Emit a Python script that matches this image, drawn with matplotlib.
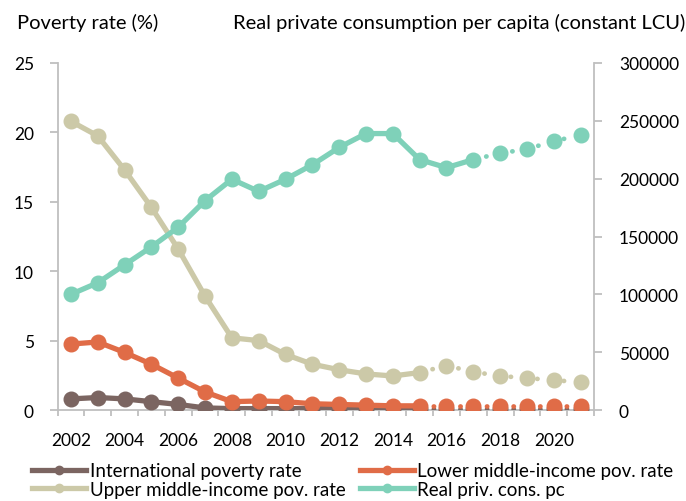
import matplotlib
matplotlib.use("Agg")
import matplotlib.pyplot as plt
from matplotlib.lines import Line2D
from matplotlib.ticker import MultipleLocator, FixedLocator

plt.rcParams['font.family'] = ['Lato', 'DejaVu Sans']

years = list(range(2002, 2022))
intl_pov = [0.8, 0.9, 0.8, 0.6, 0.4, 0.15, 0.1, 0.1, 0.1, 0.1, 0.1, 0.1, 0.1, 0.1, 0.1, 0.1, 0.1, 0.1, 0.1, 0.1]
lower_pov = [4.75, 4.9, 4.15, 3.3, 2.3, 1.3, 0.6, 0.65, 0.6, 0.45, 0.4, 0.35, 0.3, 0.3, 0.3, 0.3, 0.3, 0.3, 0.3, 0.3]
upper_pov = [20.8, 19.75, 17.3, 14.6, 11.6, 8.2, 5.2, 5.0, 4.0, 3.3, 2.9, 2.6, 2.45, 2.7, 3.2, 2.75, 2.45, 2.3, 2.15, 2.0]
cons_pc = [100000, 110000, 125500, 141000, 158000, 181000, 199500, 189000, 199500, 212000, 227000, 239000, 239000, 216500, 209500, 216500, 222000, 225500, 232500, 237500]

pov_proj_start = 2015   # last actual year for poverty series
cons_proj_start = 2017  # last actual year for consumption

c_intl = '#7B6561'
c_lower = '#E06C47'
c_upper = '#CCC9A8'
c_cons = '#7FD1B9'

labels = ['International poverty rate', 'Lower middle-income pov. rate',
          'Upper middle-income pov. rate', 'Real priv. cons. pc']

W, H = 686, 502
fig = plt.figure(figsize=(W / 100, H / 100), dpi=100)
x0, x1, y0, y1 = 57.5, 594, 411, 64
ax = fig.add_axes([x0 / W, 1 - y0 / H, (x1 - x0) / W, (y0 - y1) / H])
ax2 = ax.twinx()

lw = 3.8
ms = 10.5

def draw(a, xs, ys, color, split):
    i = xs.index(split)
    a.plot(xs[:i + 1], ys[:i + 1], color=color, lw=lw, marker='o', ms=ms,
           solid_capstyle='round', solid_joinstyle='round', zorder=3)
    a.plot(xs[i:], ys[i:], color=color, lw=lw * 0.9, linestyle=(0, (0.05, 2.75)),
           dash_capstyle='round', zorder=3)
    a.plot(xs[i + 1:], ys[i + 1:], color=color, lw=0, marker='o', ms=ms, zorder=3)

draw(ax, years, intl_pov, c_intl, pov_proj_start)
draw(ax, years, lower_pov, c_lower, pov_proj_start)
draw(ax, years, upper_pov, c_upper, pov_proj_start)
draw(ax2, years, cons_pc, c_cons, cons_proj_start)

ax.set_xlim(2001.5, 2021.5)
ax.set_ylim(0, 25)
ax2.set_ylim(0, 300000)
ax.yaxis.set_major_locator(MultipleLocator(5))
ax2.yaxis.set_major_locator(MultipleLocator(50000))
ax.xaxis.set_major_locator(FixedLocator(list(range(2002, 2021, 2))))
ax.xaxis.set_minor_locator(FixedLocator([y + 0.5 for y in range(2001, 2022)]))

spine_c = '#BFBFBF'
for a in (ax, ax2):
    for s in a.spines.values():
        s.set_color(spine_c)
        s.set_linewidth(1.3)
    a.spines['top'].set_visible(False)
ax.spines['right'].set_visible(False)
ax2.spines['left'].set_visible(False)
ax2.spines['bottom'].set_visible(False)

tfs = 12.5
ax.tick_params(axis='y', direction='out', length=6, width=1.3, color=spine_c, pad=11, labelsize=tfs)
ax2.tick_params(axis='y', direction='out', length=6, width=1.3, color=spine_c, pad=12, labelsize=tfs)
ax.tick_params(axis='x', which='major', length=0, pad=16, labelsize=tfs)
ax.tick_params(axis='x', which='minor', direction='out', length=4, width=1.3, color=spine_c)

hfs = 14.5
fig.text(17 / W, 1 - 23 / H, 'Poverty rate (%)', fontsize=hfs, ha='left', va='center')
fig.text(233 / W, 1 - 23 / H, 'Real private consumption per capita (constant LCU)', fontsize=hfs, ha='left', va='center')

cols = [c_intl, c_upper, c_lower, c_cons]
order = [0, 2, 1, 3]
handles = [Line2D([], [], color=cols[k], lw=lw, marker='o', ms=6) for k in range(4)]
fig.legend(handles, [labels[k] for k in order], loc='center left', bbox_to_anchor=(32 / W, 1 - 481 / H), ncol=2,
           frameon=False, fontsize=13.5, handlelength=2.9, handletextpad=0.18,
           columnspacing=0.75, labelspacing=0.1, borderaxespad=0, borderpad=0)

fig.savefig('out.png', dpi=100)
